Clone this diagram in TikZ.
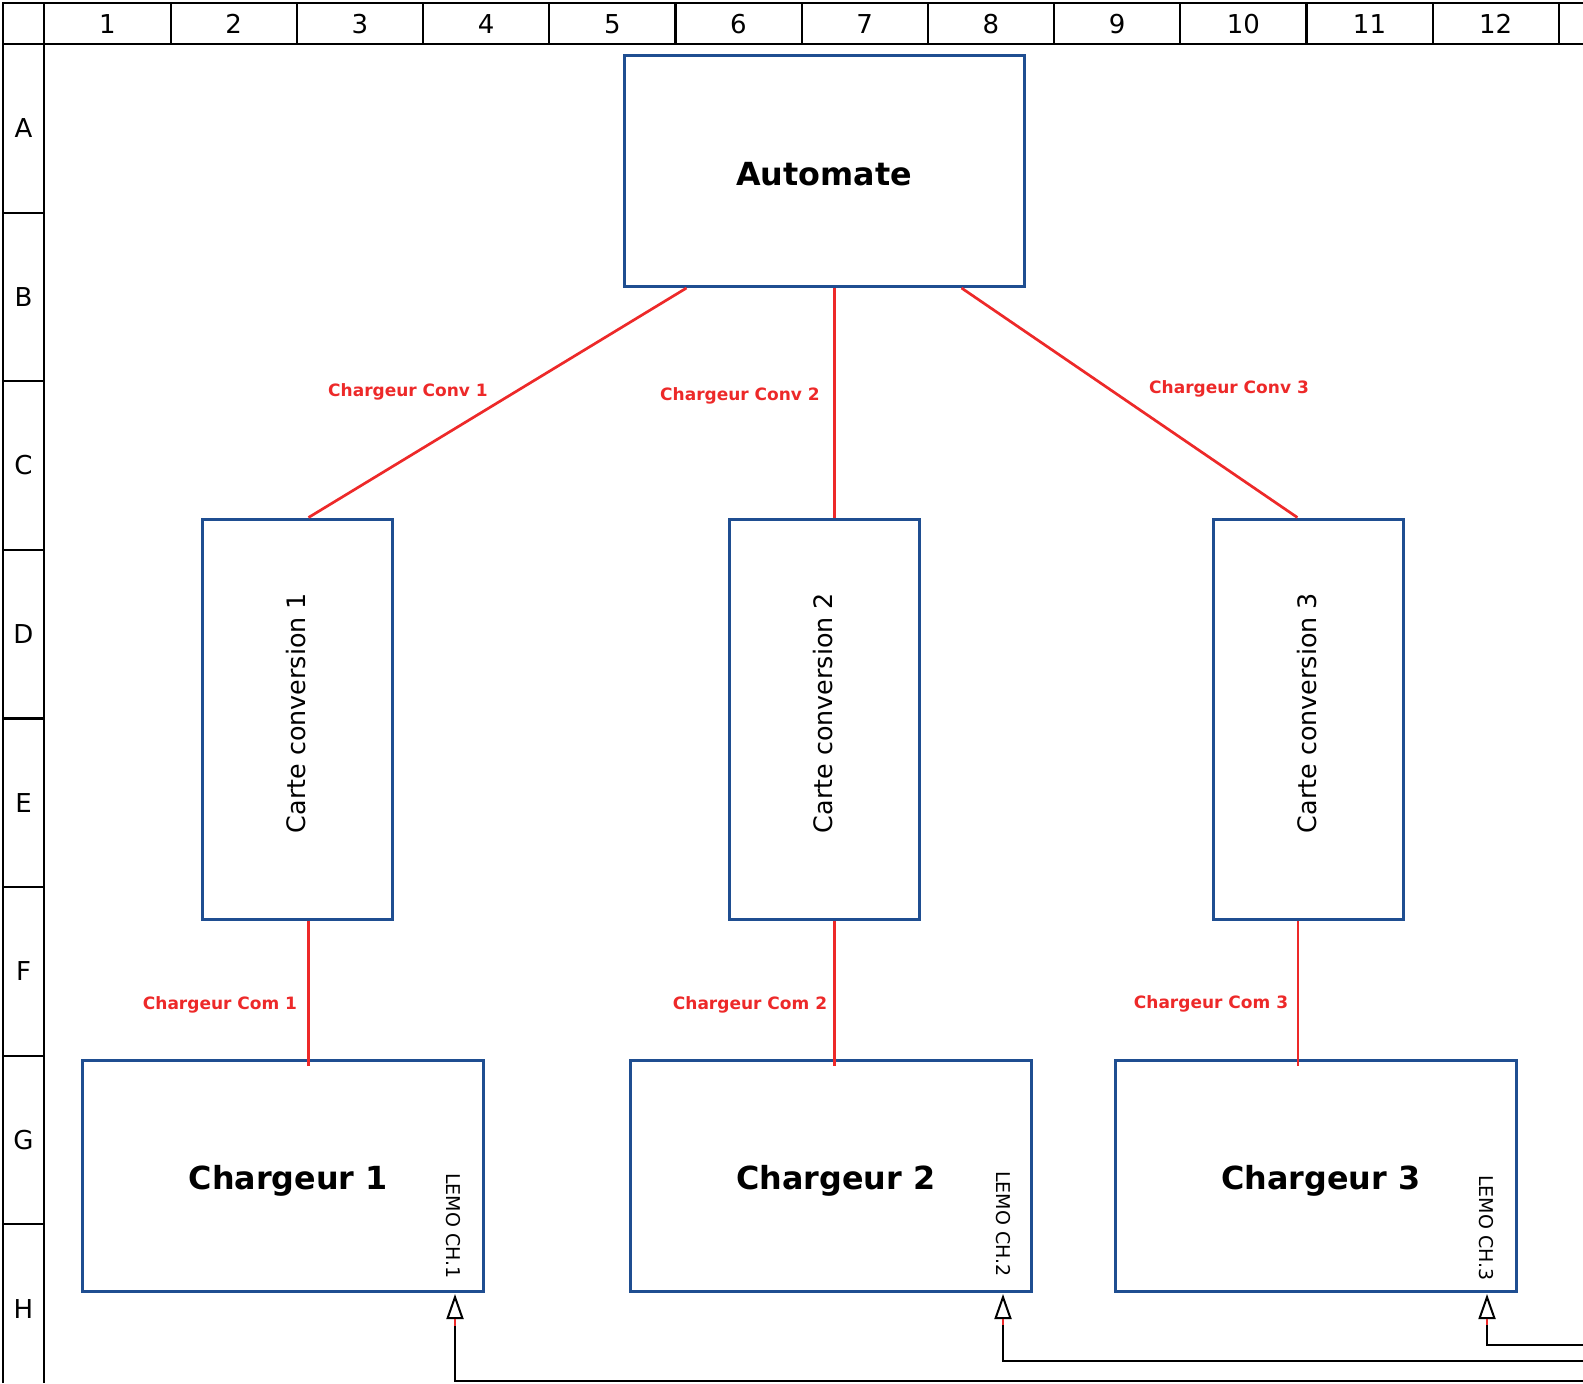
\documentclass[tikz,border=0pt]{standalone}
\usepackage{fontspec}
\setmainfont{DejaVu Sans}
\usetikzlibrary{arrows.meta}
\definecolor{boxblue}{RGB}{31,78,145}
\definecolor{linered}{RGB}{237,41,41}
\begin{document}
\begin{tikzpicture}[x=0.5pt,y=-0.5pt,
  gridline/.style={line width=1.1pt, black},
  gridlbl/.style={inner sep=0pt, font=\fontsize{13}{15}\selectfont},
  box/.style={draw=boxblue, line width=1.5pt, rectangle, inner sep=0pt, align=center},
  bigbox/.style={box, minimum width=200.4pt, minimum height=115.5pt, font=\fontsize{15.9}{18}\selectfont\bfseries},
  cardbox/.style={box, minimum width=95pt, minimum height=200pt, font=\fontsize{12.7}{15}\selectfont},
  redline/.style={draw=linered, line width=1.35pt},
  redlbl/.style={text=linered, inner sep=0pt, font=\fontsize{8.5}{10}\selectfont\bfseries},
  lemo/.style={inner sep=0pt, rotate=-90, font=\fontsize{9.5}{11}\selectfont},
  feed/.style={draw=black, line width=1pt, -{Triangle[open, length=12.5pt, width=8.5pt]}},
  stub/.style={draw=linered, line width=1pt}
]
\useasboundingbox (0,0) rectangle (1583,1383);

% grid frame
\draw[gridline] (3,1383) -- (3,3) -- (1583,3);
\draw[gridline] (44,3) -- (44,1383);
\draw[gridline] (3,44) -- (1583,44);
\foreach \k in {1,...,12} \draw[gridline] ({44.4+\k*126.2},3) -- ({44.4+\k*126.2},44);
\foreach \k in {1,...,7} \draw[gridline] (3,{44+\k*168.6}) -- (44,{44+\k*168.6});
\foreach \k in {1,...,12} \node[gridlbl] (col\k) at ({44.4+(\k-0.5)*126.2},24) {\k};
\foreach \l [count=\k] in {A,B,C,D,E,F,G,H} \node[gridlbl] (row\l) at (23.5,{44+(\k-0.5)*168.6}) {\l};

% boxes
\node[bigbox, minimum width=200pt] (auto) at (824,171) {\raisebox{-1.5pt}[\height][\depth]{Automate}};
\node[cardbox] (k1) at (297,719) {\rotatebox{90}{\hspace*{6pt}\raisebox{1.5pt}{Carte conversion 1}}};
\node[cardbox] (k2) at (824,719) {\rotatebox{90}{\hspace*{6pt}\raisebox{1.5pt}{Carte conversion 2}}};
\node[cardbox] (k3) at (1308.4,719) {\rotatebox{90}{\hspace*{6pt}\raisebox{1.5pt}{Carte conversion 3}}};
\node[bigbox] (ch1) at (283.2,1175.5) {\hspace*{5pt}\raisebox{-2.5pt}[\height][\depth]{Chargeur 1}};
\node[bigbox] (ch2) at (831,1175.5) {\hspace*{5pt}\raisebox{-2.5pt}[\height][\depth]{Chargeur 2}};
\node[bigbox] (ch3) at (1316,1175.5) {\hspace*{5pt}\raisebox{-2.5pt}[\height][\depth]{Chargeur 3}};

\node[lemo] (lemo1) at (453,1226) {LEMO CH.1};
\node[lemo] (lemo2) at (1003,1224) {LEMO CH.2};
\node[lemo] (lemo3) at (1486,1228) {LEMO CH.3};

% red connectors
\coordinate (a1) at ([shift={(64,0)}]auto.south west);
\coordinate (a2) at ([shift={(212,0)}]auto.south west);
\coordinate (a3) at ([shift={(339,0)}]auto.south west);
\coordinate (k1t) at ([shift={(108,0)}]k1.north west);
\coordinate (k2t) at ([shift={(107,0)}]k2.north west);
\coordinate (k3t) at ([shift={(85.5,0)}]k3.north west);
\draw[redline] (a1) -- (k1t);
\draw[redline] (a2) -- (k2t);
\draw[redline] (a3) -- (k3t);

\coordinate (k1b) at ([shift={(108,0)}]k1.south west);
\coordinate (k2b) at ([shift={(107,0)}]k2.south west);
\coordinate (k3b) at ([shift={(86,0)}]k3.south west);
\draw[redline, shorten >=-3.5pt] (k1b) -- (k1b |- ch1.north);
\draw[redline, shorten >=-3.5pt] (k2b) -- (k2b |- ch2.north);
\draw[redline, shorten >=-3.5pt] (k3b) -- (k3b |- ch3.north);

% labels
\node[redlbl] (lc1) at (408,392) {Chargeur Conv 1};
\node[redlbl] (lc2) at (740,396) {Chargeur Conv 2};
\node[redlbl] (lc3) at (1229,389) {Chargeur Conv 3};
\node[redlbl] (lm1) at (220,1005) {Chargeur Com 1};
\node[redlbl] (lm2) at (750,1005) {Chargeur Com 2};
\node[redlbl] (lm3) at (1211,1004) {Chargeur Com 3};

% incoming feeds
\coordinate (t1) at (455,1294);
\coordinate (t2) at (1003,1294);
\coordinate (t3) at (1487,1294);
\coordinate (e1) at (1590,1381);
\coordinate (e2) at (1590,1361);
\coordinate (e3) at (1590,1345);
\draw[feed] (e1) -| (t1);
\draw[feed] (e2) -| (t2);
\draw[feed] (e3) -| (t3);
\draw[stub] ([shift={(0,25)}]t1) -- ++(0,7);
\draw[stub] ([shift={(0,25)}]t2) -- ++(0,6);
\draw[stub] ([shift={(0,25)}]t3) -- ++(0,6);
\end{tikzpicture}
\end{document}
